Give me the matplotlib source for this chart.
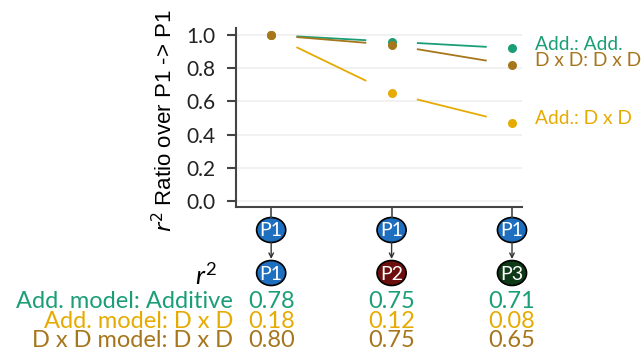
import matplotlib
matplotlib.use("Agg")
import matplotlib.pyplot as plt
from matplotlib.patches import Ellipse
from matplotlib.transforms import blended_transform_factory

plt.rcParams['font.family'] = ['Lato', 'DejaVu Sans']
plt.rcParams['mathtext.fontset'] = 'custom'
plt.rcParams['mathtext.it'] = 'Lato:italic'
plt.rcParams['mathtext.rm'] = 'Lato'

# data
gens = [1, 2, 3]
series_names = ['Add.: Add.', 'Add.: D x D', 'D x D: D x D']
ratio_add_add = [1.0, 0.96, 0.92]
ratio_add_dxd = [1.0, 0.65, 0.47]
ratio_dxd_dxd = [1.0, 0.94, 0.82]
series_colors = ['#1b9e77', '#e6ab02', '#a6761d']

target_pops = ['P1', 'P2', 'P3']
target_colors = ['#1f6fc0', '#6e0f0f', '#0f3a17']
row_labels = ['Add. model: Additive', 'Add. model: D x D', 'D x D model: D x D']
r2_add_add = [0.78, 0.75, 0.71]
r2_add_dxd = [0.18, 0.12, 0.08]
r2_dxd_dxd = [0.80, 0.75, 0.65]

W, H = 643, 358
fig = plt.figure(figsize=(W / 100, H / 100), dpi=100)

def fx(px):
    return px / W

def fy(py):
    return 1 - py / H

ax = fig.add_axes([fx(236), fy(207), fx(522) - fx(236), fy(28) - fy(207)])
ax.set_xlim(0.708, 3.083)
ax.set_ylim(-0.036, 1.042)

for v in [0, 0.2, 0.4, 0.6, 0.8, 1.0]:
    ax.axhline(v, color='#efefef', lw=1.2, zorder=0)

gap = 0.21
all_series = [ratio_add_add, ratio_add_dxd, ratio_dxd_dxd]
for vals, col in zip(all_series, series_colors):
    for i in range(len(gens) - 1):
        x0, x1 = gens[i], gens[i + 1]
        y0, y1 = vals[i], vals[i + 1]
        slope = (y1 - y0) / (x1 - x0)
        ax.plot([x0 + gap, x1 - gap], [y0 + slope * gap, y1 - slope * gap],
                color=col, lw=1.3, solid_capstyle='butt')
    ax.plot(gens, vals, 'o', color=col, ms=6.5, mec='none', clip_on=False)

# labels on the right
for vals, name, col in zip(all_series, series_names, series_colors):
    ax.text(gens[-1] + 0.19, vals[-1] + 0.025, name, color=col, fontsize=13.8,
            va='center', ha='left', clip_on=False)

ax.spines['top'].set_visible(False)
ax.spines['right'].set_visible(False)
for s in ['left', 'bottom']:
    ax.spines[s].set_color('#444444')
    ax.spines[s].set_linewidth(1.5)
ax.set_yticks([0, 0.2, 0.4, 0.6, 0.8, 1.0])
ax.set_yticklabels(['0.0', '0.2', '0.4', '0.6', '0.8', '1.0'])
ax.tick_params(axis='y', length=6.5, width=1.5, color='#444444', labelsize=15,
               pad=8, labelcolor='#222222')
ax.set_xticks(gens)
ax.tick_params(axis='x', length=8, width=1.2, color='#444444', labelbottom=False)

fig.text(fx(165), fy(121), '$r^2$ Ratio over P1 -> P1', fontsize=16, rotation=90,
         ha='center', va='center', family=['Liberation Sans', 'DejaVu Sans'],
         math_fontfamily='dejavusans')

# population nodes below the axis
tr = blended_transform_factory(ax.transData, fig.transFigure)
ew = 29 / 120
eh = 25 / H
for g, pop, col in zip(gens, target_pops, target_colors):
    ax.add_patch(Ellipse((g, fy(230)), ew, eh, transform=tr, facecolor='#1f6fc0',
                         edgecolor='black', lw=1.2, clip_on=False))
    ax.text(g, fy(231), 'P1', transform=tr, color='white', fontsize=14,
            ha='center', va='center', clip_on=False)
    ax.annotate('', xy=(g, fy(259)), xycoords=tr, xytext=(g, fy(242)), textcoords=tr,
                arrowprops=dict(arrowstyle='->', color='#333333', lw=1,
                                shrinkA=0, shrinkB=0, mutation_scale=8))
    ax.add_patch(Ellipse((g, fy(273)), ew, eh, transform=tr, facecolor=col,
                         edgecolor='black', lw=1.2, clip_on=False))
    ax.text(g, fy(274), pop, transform=tr, color='white', fontsize=14,
            ha='center', va='center', clip_on=False)

fig.text(fx(206), fy(285), '$r^2$', fontsize=19, ha='center', va='baseline')

row_ys = [308, 328, 347]
row_vals = [r2_add_add, r2_add_dxd, r2_dxd_dxd]
row_colors = ['#1b9e77', '#e6ab02', '#a6761d']
for label, vals, col, py in zip(row_labels, row_vals, row_colors, row_ys):
    fig.text(fx(233), fy(py), label, color=col, fontsize=17, ha='right', va='baseline')
    for g, v in zip(gens, vals):
        ax.text(g, fy(py), f'{v:.2f}', transform=tr, color=col, fontsize=17,
                ha='center', va='baseline', clip_on=False)

fig.savefig('out.png', dpi=100)
